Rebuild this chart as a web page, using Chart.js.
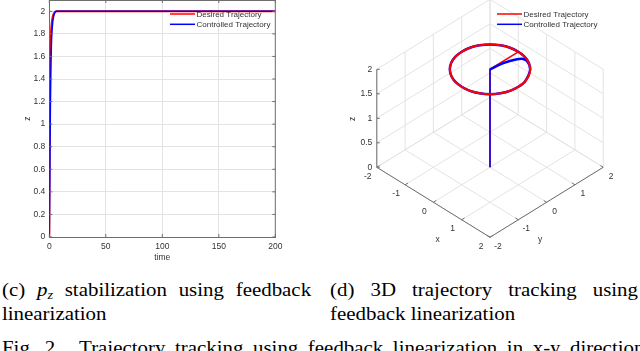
<!DOCTYPE html>
<html>
<head>
<meta charset="utf-8">
<script src="https://cdn.jsdelivr.net/npm/chart.js@4.4.1/dist/chart.umd.min.js"></script>
<style>
  html, body { margin: 0; padding: 0; background: #fff; width: 640px; height: 351px; overflow: hidden; }
  canvas { position: absolute; top: 0; }
  #left { left: 0; }
  #right { left: 320px; }
  .cap { position: absolute; font-family: "Liberation Serif", "Times New Roman", serif; font-size: 19px; line-height: 20px; color: #000; white-space: nowrap; transform: scaleX(1.1); transform-origin: 0 0; }
  .just { white-space: normal; text-align: justify; text-align-last: justify; }
  sub { font-size: 13px; line-height: 0; vertical-align: -3px; }
</style>
</head>
<body>
<canvas id="left" width="320" height="270"></canvas>
<canvas id="right" width="320" height="270"></canvas>

<div class="cap just" style="left:2px; top:280px; width:281px">(c) <i>p</i><sub><i>z</i></sub> stabilization using feedback</div>
<div class="cap" style="left:2px; top:303.5px;">linearization</div>
<div class="cap just" style="left:330px; top:280px; width:280px">(d) 3D trajectory tracking using</div>
<div class="cap" style="left:330px; top:303.5px;">feedback linearization</div>
<div class="cap just" style="left:2px; top:338px; width:584px">Fig. 2.&nbsp; Trajectory tracking using feedback linearization in x-y direction</div>

<script>
// ---- (c) z vs time ----
const timeDesired = [0, 0.3, 0.6, 1, 1.5, 2, 3, 4, 6, 200];
const zDesired = [0, 0.8, 1.4, 1.65, 1.8, 1.88, 1.95, 1.98, 2, 2];
const timeControlled = [0, 0.5, 1, 1.5, 2, 3, 4, 5, 7, 200];
const zControlled = [0, 0.6, 1.2, 1.55, 1.75, 1.9, 1.96, 1.99, 2, 2];
const timeTicks = [0, 50, 100, 150, 200];
const zTicks = [0, 0.2, 0.4, 0.6, 0.8, 1, 1.2, 1.4, 1.6, 1.8, 2];

// ---- (d) 3D trajectory ----
const circleX = [0, 0.26, 0.5, 0.71, 0.87, 0.97, 1, 0.97, 0.87, 0.71, 0.5, 0.26, 0, -0.26, -0.5, -0.71, -0.87, -0.97, -1, -0.97, -0.87, -0.71, -0.5, -0.26, 0];
const circleY = [1, 0.97, 0.87, 0.71, 0.5, 0.26, 0, -0.26, -0.5, -0.71, -0.87, -0.97, -1, -0.97, -0.87, -0.71, -0.5, -0.26, 0, 0.26, 0.5, 0.71, 0.87, 0.97, 1];
const circleZ = 2;
const climbDesiredX = [0, 0, 0];
const climbDesiredY = [0, 0, 1];
const climbDesiredZ = [0, 2, 2];
const climbControlledX = [0, 0];
const climbControlledY = [0, 0];
const climbControlledZ = [0, 2];
const approachX = [0, 0.06, 0.19, 0.29, 0.44, 0.71];
const approachY = [0, 0.41, 0.76, 0.88, 0.88, 0.71];
const xyTicks = [-2, -1, 0, 1, 2];
const zTicks3d = [0, 0.5, 1, 1.5, 2];

const legendLabels = ['Desired Trajectory', 'Controlled Trajectory'];
const legendColors = ['#ff0000', '#0000ff'];

const tickFont = '8.5px "Liberation Sans", Arial, sans-serif';
const tickColor = '#333333';
const axisColor = '#6e6e6e';
const gridColor = '#e3e3e3';

function drawLegend(ctx, x0, y0) {
    ctx.save();
    ctx.font = '8px "Liberation Sans", Arial, sans-serif';
    ctx.textBaseline = 'middle';
    ctx.textAlign = 'left';
    legendLabels.forEach((label, i) => {
        const y = y0 + i * 10.3;
        ctx.strokeStyle = legendColors[i];
        ctx.lineWidth = 1.5;
        ctx.beginPath();
        ctx.moveTo(x0, y);
        ctx.lineTo(x0 + 25, y);
        ctx.stroke();
        ctx.fillStyle = tickColor;
        ctx.fillText(label, x0 + 26.5, y + 0.5);
    });
    ctx.restore();
}

function line(ctx, x1, y1, x2, y2) {
    ctx.beginPath();
    ctx.moveTo(x1, y1);
    ctx.lineTo(x2, y2);
    ctx.stroke();
}

// box, inward ticks, titles and legend of the 2D plot
const leftExtras = {
    id: 'leftExtras',
    afterDraw(chart) {
        const ctx = chart.ctx;
        const { left, right, top, bottom } = chart.chartArea;
        const xs = chart.scales.x, ys = chart.scales.y;
        ctx.save();
        ctx.strokeStyle = axisColor;
        ctx.lineWidth = 1;
        line(ctx, right, top, right, bottom);
        line(ctx, left, top + 0.5, right, top + 0.5);
        timeTicks.forEach(t => {
            const px = xs.getPixelForValue(t);
            line(ctx, px, bottom, px, bottom - 3);
            line(ctx, px, top, px, top + 3);
        });
        zTicks.forEach(v => {
            const py = ys.getPixelForValue(v);
            line(ctx, left, py, left + 3, py);
            line(ctx, right, py, right - 3, py);
        });
        ctx.fillStyle = tickColor;
        ctx.font = tickFont;
        ctx.textAlign = 'center';
        ctx.textBaseline = 'middle';
        ctx.fillText('time', (left + right) / 2, 257.5);
        ctx.translate(27.7, 118.5);
        ctx.rotate(-Math.PI / 2);
        ctx.fillText('z', 0, 0);
        ctx.restore();
        drawLegend(ctx, 170, 14);
    }
};

new Chart(document.getElementById('left'), {
    type: 'scatter',
    data: {
        datasets: [
            {
                label: legendLabels[1],
                data: timeControlled.map((t, i) => ({ x: t, y: zControlled[i] })),
                borderColor: legendColors[1],
                borderWidth: 1.5,
                showLine: true,
                pointRadius: 0,
                cubicInterpolationMode: 'monotone'
            },
            {
                label: legendLabels[0],
                data: timeDesired.map((t, i) => ({ x: t, y: zDesired[i] })),
                borderColor: legendColors[0],
                borderWidth: 2,
                showLine: true,
                pointRadius: 0,
                cubicInterpolationMode: 'monotone'
            }
        ]
    },
    options: {
        responsive: false,
        animation: false,
        layout: { padding: { left: 0, right: 44.7, top: 0, bottom: 0 } },
        plugins: { legend: { display: false }, tooltip: { enabled: false } },
        scales: {
            x: {
                type: 'linear',
                min: 0,
                max: 200,
                afterBuildTicks: s => { s.ticks = timeTicks.map(v => ({ value: v })); },
                afterFit: s => { s.height = 33; s.paddingLeft = 0; s.paddingRight = 0; },
                ticks: { font: { family: '"Liberation Sans", Arial', size: 8.5 }, color: tickColor, padding: 5, maxRotation: 0, autoSkip: false },
                grid: { color: gridColor, drawTicks: false },
                border: { color: axisColor }
            },
            y: {
                type: 'linear',
                min: 0,
                max: 2.1,
                afterBuildTicks: s => { s.ticks = zTicks.map(v => ({ value: v })); },
                afterFit: s => { s.width = 49.3; s.paddingTop = 0; s.paddingBottom = 0; },
                ticks: { font: { family: '"Liberation Sans", Arial', size: 8.5 }, color: tickColor, padding: 4, callback: v => String(v), autoSkip: false },
                grid: { color: gridColor, drawTicks: false },
                border: { color: axisColor }
            }
        }
    },
    plugins: [leftExtras]
});

// ---- 3D view: x+y across, (y-x) and z up ----
function project(x, y, z) {
    return { x: x + y, y: 0.357 * (y - x) + z };
}

function pointsOf(xs, ys, zs) {
    return xs.map((x, i) => project(x, ys[i], Array.isArray(zs) ? zs[i] : zs));
}

const controlledCircleX = approachX.concat(circleX.slice(5), circleX.slice(1, 4));
const controlledCircleY = approachY.concat(circleY.slice(5), circleY.slice(1, 4));

const boxPlugin = {
    id: 'box3d',
    beforeDatasetsDraw(chart) {
        const ctx = chart.ctx;
        const xs = chart.scales.x, ys = chart.scales.y;
        const P = (x, y, z) => {
            const p = project(x, y, z);
            return [xs.getPixelForValue(p.x), ys.getPixelForValue(p.y)];
        };
        const seg = (a, b) => {
            const p = P(...a), q = P(...b);
            line(ctx, p[0], p[1], q[0], q[1]);
        };
        ctx.save();
        ctx.lineWidth = 1;
        ctx.strokeStyle = gridColor;
        xyTicks.forEach(v => {
            seg([v, -2, 0], [v, 2, 0]);
            seg([-2, v, 0], [2, v, 0]);
            seg([-2, v, 0], [-2, v, 2]);
            seg([v, 2, 0], [v, 2, 2]);
        });
        zTicks3d.forEach(z => {
            seg([-2, -2, z], [-2, 2, z]);
            seg([-2, 2, z], [2, 2, z]);
        });
        ctx.strokeStyle = axisColor;
        seg([-2, -2, 0], [2, -2, 0]);
        seg([2, -2, 0], [2, 2, 0]);
        seg([-2, -2, 0], [-2, -2, 2]);
        xyTicks.forEach(v => {
            seg([v, -2, 0], [v, -1.9, 0]);
            seg([2, v, 0], [1.9, v, 0]);
        });
        ctx.fillStyle = tickColor;
        ctx.font = tickFont;
        ctx.textBaseline = 'middle';
        ctx.textAlign = 'center';
        xyTicks.forEach(v => {
            const a = P(v, -2, 0);
            ctx.fillText(String(v), a[0] - 9, a[1] + 9);
            const b = P(2, v, 0);
            ctx.fillText(String(v), b[0] + 8, b[1] + 9);
        });
        const xl = P(0, -2, 0), yl = P(2, 0, 0);
        ctx.fillText('x', xl[0] + 4.3, xl[1] + 37.7);
        ctx.fillText('y', yl[0] - 6.6, yl[1] + 37.7);
        ctx.textAlign = 'right';
        zTicks3d.forEach(z => {
            const a = P(-2, -2, z);
            line(ctx, a[0], a[1], a[0] + 3, a[1]);
            ctx.fillText(String(z), a[0] - 4.5, a[1]);
        });
        const zl = P(-2, -2, 1);
        ctx.translate(zl[0] - 24.4, zl[1] + 0.5);
        ctx.rotate(-Math.PI / 2);
        ctx.textAlign = 'center';
        ctx.fillText('z', 0, 0);
        ctx.restore();
    },
    afterDraw(chart) {
        drawLegend(chart.ctx, 177, 14);
    }
};

// first dataset is drawn on top
new Chart(document.getElementById('right'), {
    type: 'scatter',
    data: {
        datasets: [
            { label: legendLabels[0], data: pointsOf(circleX, circleY, circleZ), borderColor: legendColors[0], borderWidth: 2, tension: 0.3 },
            { label: legendLabels[1], data: pointsOf(controlledCircleX, controlledCircleY, circleZ), borderColor: legendColors[1], borderWidth: 2.5, tension: 0.3 },
            { label: legendLabels[1], data: pointsOf(climbControlledX, climbControlledY, climbControlledZ), borderColor: legendColors[1], borderWidth: 1.5, tension: 0 },
            { label: legendLabels[0], data: pointsOf(climbDesiredX, climbDesiredY, climbDesiredZ), borderColor: legendColors[0], borderWidth: 1.5, tension: 0 }
        ].map(d => Object.assign(d, { showLine: true, pointRadius: 0, clip: false }))
    },
    options: {
        responsive: false,
        animation: false,
        layout: { padding: 0 },
        plugins: { legend: { display: false }, tooltip: { enabled: false } },
        scales: {
            x: { type: 'linear', display: false, min: -6.007, max: 5.3 },
            y: { type: 'linear', display: false, min: -2.096, max: 3.414 }
        }
    },
    plugins: [boxPlugin]
});
</script>
</body>
</html>
